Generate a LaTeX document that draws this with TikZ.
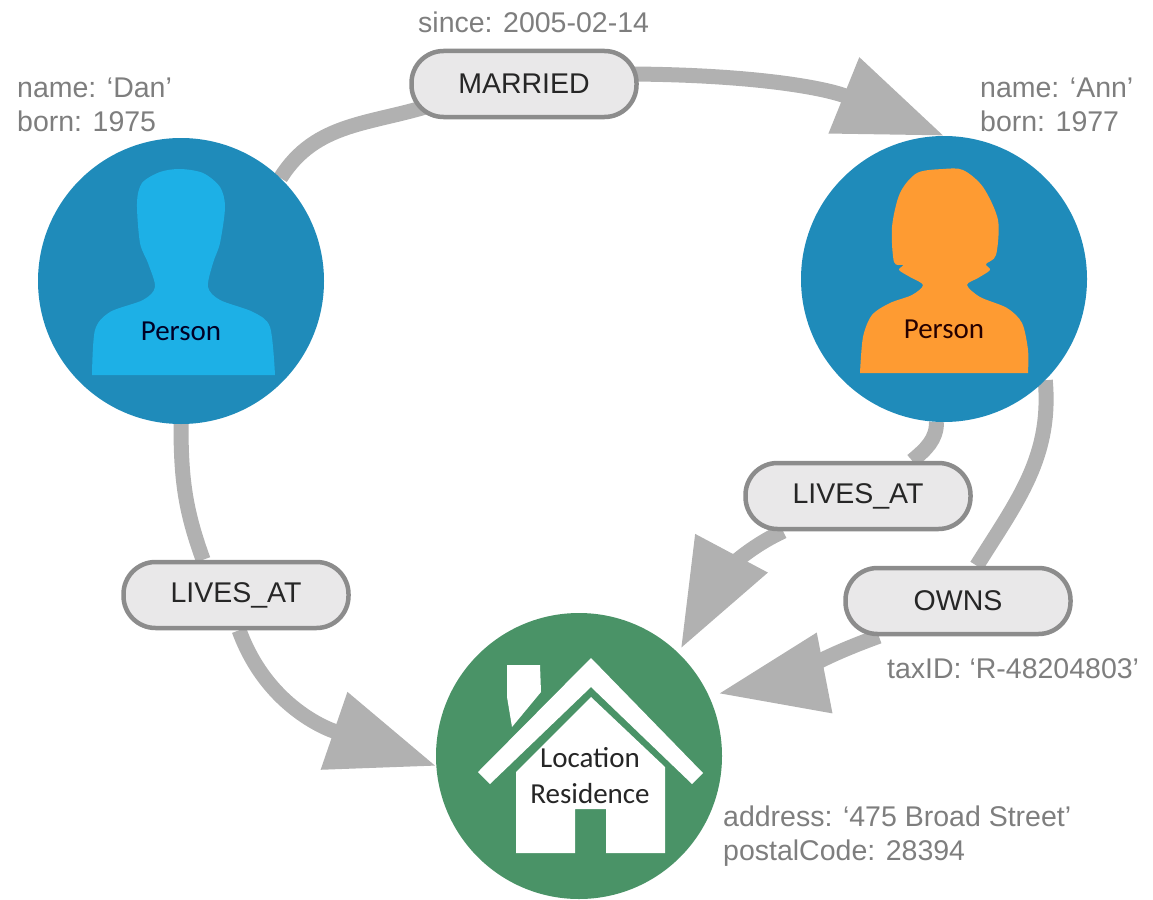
\documentclass[tikz,border=0pt]{standalone}
\usepackage{fontspec}
\setmainfont{Liberation Sans}
\newfontfamily\labelfont{Carlito}
\usetikzlibrary{arrows.meta, positioning, backgrounds}
\definecolor{nodeblue}{HTML}{1F8BBA}
\definecolor{danblue}{HTML}{1DB0E6}
\definecolor{annorange}{HTML}{FE9B32}
\definecolor{homegreen}{HTML}{4A9367}
\definecolor{linkgray}{HTML}{B1B1B1}
\definecolor{pillgray}{HTML}{E9E8E9}
\definecolor{textgray}{HTML}{7E7E7E}
\tikzstyle{person} = [
    circle,
    minimum size=286pt,
    inner sep=0pt,
    fill=nodeblue
]
\tikzstyle{place} = [
    circle,
    minimum size=286pt,
    inner sep=0pt,
    fill=homegreen
]
\tikzstyle{pill} = [
    rectangle,
    rounded corners=32pt,
    minimum width=225pt,
    minimum height=66pt,
    text centered,
    draw=black!45,
    line width=4.5pt,
    fill=pillgray,
    font=\fontsize{28.5}{32}\selectfont,
    text=black!85
]
\tikzstyle{props} = [
    anchor=west,
    align=left,
    inner sep=0pt,
    text=textgray,
    font=\fontsize{28.5}{34}\selectfont
]
\tikzstyle{tag} = [
    align=center,
    inner sep=0pt,
    font=\labelfont\fontsize{29}{36}\selectfont
]
\tikzstyle{link} = [line width=15pt, linkgray]
\tikzstyle{arrow} = [line width=15pt, linkgray, -{Triangle[length=108pt,width=78pt]}]

\begin{document}
\begin{tikzpicture}[x=1pt, y=-1pt, node distance=100pt]
\useasboundingbox (0,0) rectangle (1153,899);

\node (dan) [person] at (181,281) {};
\node (ann) [person, right of=dan, xshift=663pt, yshift=2pt] {};
\node (home) [place, below of=dan, xshift=398pt, yshift=-375pt] {};

% silhouettes
\fill[danblue] plot[smooth, tension=0.5] coordinates {(92,375) (95,330) (110,312) (143,300) (155,287) (148,263) (140,243) (137,203) (142,183) (160,172) (180,169) (203,173) (220,187) (225,207) (220,243) (213,263) (208,287) (220,300) (253,312) (270,327) (275,375)} -- cycle;
\fill[annorange] plot[smooth, tension=0.5] coordinates {(860,373) (863,337) (872,315) (890,303) (912,295) (923,285) (910,277) (899,270) (903,265) (894,262) (892,227) (900,193) (917,173) (943,169) (963,170) (983,187) (998,220) (996,255) (986,264) (990,270) (978,278) (967,285) (980,297) (1007,308) (1022,323) (1028,350) (1028,373)} -- cycle;

% house
\fill[white] (591,658) -- (703,773) -- (692,784) -- (591,687) -- (490,784) -- (478,772) -- cycle;
\fill[white] (591,697) -- (665,767) -- (665,853) -- (606,853) -- (606,809) -- (575,809) -- (575,853) -- (516,853) -- (516,772) -- cycle;
\fill[white] (507,665) -- (540,665) -- (541,692) -- (512,727) -- (507,697) -- cycle;

\node (married) [pill, above of=dan, xshift=343pt, yshift=97pt] {MARRIED};
\node (danlives) [pill, below of=dan, xshift=55pt, yshift=-214pt] {LIVES\_AT};
\node (annlives) [pill, below of=ann, xshift=-86pt, yshift=-117pt] {LIVES\_AT};
\node (owns) [pill, below of=ann, xshift=14pt, yshift=-222pt] {OWNS};

\node (danprops) [props, above of=dan, xshift=-164pt, yshift=76pt, anchor=west] {name: ‘Dan’\\born: 1975};
\node (annprops) [props, above of=ann, xshift=36pt, yshift=74pt, anchor=west] {name: ‘Ann’\\born: 1977};
\node (since) [props, above of=married, xshift=-106pt, yshift=-38pt, anchor=west] {since: 2005-02-14};
\node (taxid) [props, below of=owns, xshift=-71pt, yshift=32pt, anchor=west] {taxID: ‘R-48204803’};
\node (address) [props, right of=home, xshift=44pt, yshift=-80pt, anchor=west] {address: ‘475 Broad Street’\\postalCode: 28394};

\node (dantag) [tag, below of=dan, yshift=50pt, text=black!85!blue] {Person};
\node (anntag) [tag, below of=ann, yshift=50pt, text=black!85!red] {Person};
\node (hometag) [tag, below of=home, xshift=11pt, yshift=80pt, text=black!85] {Location\\Residence};

\begin{scope}[on background layer]
\draw[link] (dan.46) to[out=58, in=198] ([xshift=25pt]married.190);
\draw[arrow] ([xshift=-20pt]married.5) to[out=0, in=158] (ann.north);
\draw[link] (dan.south) to[out=-90, in=110] (danlives.133);
\draw[arrow] (danlives.-85) to[out=-70, in=161] (home.184);
\draw[link] (ann.-93) to[out=-90, in=40] ([xshift=-15pt]annlives.27);
\draw[arrow, shorten >=5pt] ([xshift=22pt]annlives.200) to[out=205, in=62] (home.46);
\draw[link] (ann.-45) to[out=-85, in=58] (owns.62);
\draw[arrow, shorten >=10pt] (owns.204) to[out=200, in=11] (home.25);
\end{scope}

\end{tikzpicture}
\end{document}
